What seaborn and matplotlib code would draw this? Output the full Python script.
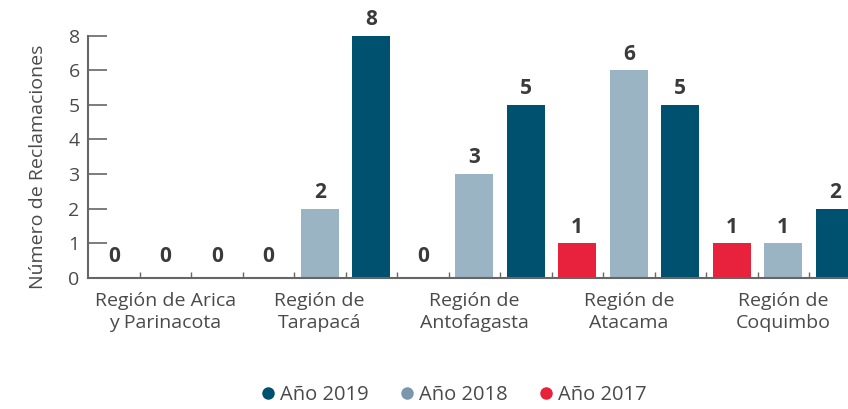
import numpy as np
import pandas as pd
import matplotlib
matplotlib.use("Agg")
import matplotlib.pyplot as plt
from matplotlib.lines import Line2D
import seaborn as sns

# data
regiones = ["Región de Arica\ny Parinacota", "Región de\nTarapacá", "Región de\nAntofagasta",
            "Región de\nAtacama", "Región de\nCoquimbo"]
anios = ["2017", "2018", "2019"]
valores_2017 = [0, 0, 0, 1, 1]
valores_2018 = [0, 2, 3, 6, 1]
valores_2019 = [0, 8, 5, 5, 2]
y_ticks = [0, 1, 2, 3, 4, 5, 6, 8]

colores_barras = {"2017": "#e8223c", "2018": "#9bb4c3", "2019": "#00516f"}
colores_leyenda = {"2019": "#00516f", "2018": "#7b97ad", "2017": "#e8223c"}

df = pd.DataFrame({
    "region": regiones * 3,
    "anio": ["2017"] * 5 + ["2018"] * 5 + ["2019"] * 5,
    "valor": valores_2017 + valores_2018 + valores_2019,
})

sns.set_style("ticks")
plt.rcParams["font.family"] = ["Open Sans", "DejaVu Sans"]
text_color = "#4a4a4a"

fig = plt.figure(figsize=(8.48, 4.09), dpi=100)
ax = fig.add_axes([88 / 848, 1 - 277.7 / 409, 1 - 88 / 848, (277.7 - 35.7) / 409])

sns.barplot(data=df, x="region", y="valor", hue="anio", hue_order=anios,
            palette=colores_barras, width=1.0, gap=0.26, legend=False,
            saturation=1, linewidth=0, edgecolor="none", ax=ax)

# the reference axis puts the ticks at equal spacing, skipping 7
pos = np.arange(len(y_ticks))
ax.set_yscale("function", functions=(lambda v: np.interp(v, y_ticks, pos),
                                     lambda p: np.interp(p, pos, y_ticks)))
ax.set_ylim(0, 8)
ax.set_yticks(y_ticks)
ax.set_yticklabels([str(t) for t in y_ticks])
ax.set_xlim(-0.5, -0.5 + 760 / 154.5)

for p in ax.patches:
    h = p.get_height()
    x = p.get_x() + p.get_width() / 2
    ax.annotate(f"{h:.0f}", (x, h), xytext=(0, 8 if h == 0 else 4),
                textcoords="offset points", ha="center", va="bottom",
                fontsize=15, fontweight="bold", color="#3a3a3a",
                annotation_clip=False)

ax.set_xlabel("")
ax.set_ylabel("")
ax.set_xticks(range(len(regiones)))
ax.set_xticklabels(regiones, fontsize=14, color=text_color, linespacing=1.3)
ax.set_xticks([-0.5 + k / 3 for k in range(1, 15)], minor=True)
ax.tick_params(axis="x", which="major", length=0, pad=10)
ax.tick_params(axis="x", which="minor", length=4, direction="in", color="#666666", width=1)
ax.tick_params(axis="y", length=14, direction="in", color="#666666", width=1.2,
               labelsize=14, labelcolor=text_color, pad=6)

sns.despine(ax=ax, top=True, right=True)
for s in ["left", "bottom"]:
    ax.spines[s].set_color("#666666")
    ax.spines[s].set_linewidth(1.5)

fig.text(38 / 848, 1 - 167 / 409, "Número de Reclamaciones", rotation=90,
         ha="center", va="center", fontsize=14, color=text_color)

handles = [Line2D([0], [0], marker="o", linestyle="", markersize=9,
                  markerfacecolor=colores_leyenda[a], markeredgecolor="none")
           for a in ["2019", "2018", "2017"]]
fig.legend(handles, ["Año 2019", "Año 2018", "Año 2017"], loc="center",
           bbox_to_anchor=(452 / 848, 1 - 395 / 409), ncol=3, frameon=False,
           fontsize=14.5, labelcolor=text_color, handletextpad=0.1,
           columnspacing=1.4, handlelength=1.0)

fig.savefig("out.png", dpi=100)
